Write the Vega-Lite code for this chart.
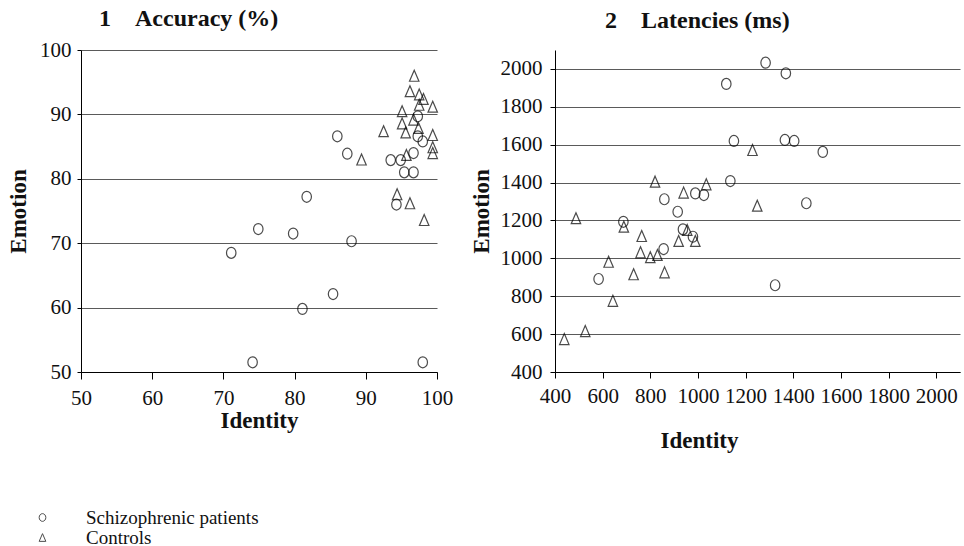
{
  "$schema": "https://vega.github.io/schema/vega-lite/v6.json",
  "autosize": {"type": "pad"},
  "padding": {"left": 7, "top": 7, "right": 2, "bottom": 0},
  "background": "white",
  "bounds": "flush",
  "spacing": 118,
  "datasets": {
    "acc": [
      {"group": "Schizophrenic patients", "identity": 86.0, "emotion": 86.6},
      {"group": "Schizophrenic patients", "identity": 87.4, "emotion": 83.9},
      {"group": "Schizophrenic patients", "identity": 93.5, "emotion": 82.9},
      {"group": "Schizophrenic patients", "identity": 94.9, "emotion": 82.9},
      {"group": "Schizophrenic patients", "identity": 95.4, "emotion": 81.0},
      {"group": "Schizophrenic patients", "identity": 96.7, "emotion": 81.0},
      {"group": "Schizophrenic patients", "identity": 96.7, "emotion": 84.0},
      {"group": "Schizophrenic patients", "identity": 97.3, "emotion": 89.7},
      {"group": "Schizophrenic patients", "identity": 97.3, "emotion": 86.6},
      {"group": "Schizophrenic patients", "identity": 98.0, "emotion": 85.8},
      {"group": "Schizophrenic patients", "identity": 81.7, "emotion": 77.2},
      {"group": "Schizophrenic patients", "identity": 74.9, "emotion": 72.2},
      {"group": "Schizophrenic patients", "identity": 79.8, "emotion": 71.5},
      {"group": "Schizophrenic patients", "identity": 71.1, "emotion": 68.5},
      {"group": "Schizophrenic patients", "identity": 88.0, "emotion": 70.3},
      {"group": "Schizophrenic patients", "identity": 85.4, "emotion": 62.1},
      {"group": "Schizophrenic patients", "identity": 81.1, "emotion": 59.8},
      {"group": "Schizophrenic patients", "identity": 74.1, "emotion": 51.5},
      {"group": "Schizophrenic patients", "identity": 98.0, "emotion": 51.5},
      {"group": "Schizophrenic patients", "identity": 94.3, "emotion": 76.0},
      {"group": "Controls", "identity": 96.8, "emotion": 96.0},
      {"group": "Controls", "identity": 96.2, "emotion": 93.6},
      {"group": "Controls", "identity": 97.5, "emotion": 93.1},
      {"group": "Controls", "identity": 98.1, "emotion": 92.4},
      {"group": "Controls", "identity": 97.5, "emotion": 91.5},
      {"group": "Controls", "identity": 99.4, "emotion": 91.2},
      {"group": "Controls", "identity": 95.1, "emotion": 90.5},
      {"group": "Controls", "identity": 96.7, "emotion": 89.2},
      {"group": "Controls", "identity": 95.1, "emotion": 88.6},
      {"group": "Controls", "identity": 97.4, "emotion": 87.9},
      {"group": "Controls", "identity": 92.5, "emotion": 87.4},
      {"group": "Controls", "identity": 95.6, "emotion": 87.2},
      {"group": "Controls", "identity": 99.4, "emotion": 86.8},
      {"group": "Controls", "identity": 99.4, "emotion": 84.9},
      {"group": "Controls", "identity": 99.4, "emotion": 84.0},
      {"group": "Controls", "identity": 95.7, "emotion": 83.7},
      {"group": "Controls", "identity": 89.4, "emotion": 83.0},
      {"group": "Controls", "identity": 94.4, "emotion": 77.6},
      {"group": "Controls", "identity": 96.2, "emotion": 76.2},
      {"group": "Controls", "identity": 98.2, "emotion": 73.6}
    ],
    "lat": [
      {"group": "Schizophrenic patients", "identity": 1284, "emotion": 2033},
      {"group": "Schizophrenic patients", "identity": 1369, "emotion": 1977},
      {"group": "Schizophrenic patients", "identity": 1119, "emotion": 1921},
      {"group": "Schizophrenic patients", "identity": 1151, "emotion": 1620},
      {"group": "Schizophrenic patients", "identity": 1365, "emotion": 1625},
      {"group": "Schizophrenic patients", "identity": 1404, "emotion": 1620},
      {"group": "Schizophrenic patients", "identity": 1524, "emotion": 1562},
      {"group": "Schizophrenic patients", "identity": 1136, "emotion": 1408},
      {"group": "Schizophrenic patients", "identity": 859, "emotion": 1312},
      {"group": "Schizophrenic patients", "identity": 989, "emotion": 1343},
      {"group": "Schizophrenic patients", "identity": 1025, "emotion": 1334},
      {"group": "Schizophrenic patients", "identity": 915, "emotion": 1246},
      {"group": "Schizophrenic patients", "identity": 687, "emotion": 1193},
      {"group": "Schizophrenic patients", "identity": 937, "emotion": 1153},
      {"group": "Schizophrenic patients", "identity": 979, "emotion": 1114},
      {"group": "Schizophrenic patients", "identity": 856, "emotion": 1049},
      {"group": "Schizophrenic patients", "identity": 583, "emotion": 891},
      {"group": "Schizophrenic patients", "identity": 1324, "emotion": 858},
      {"group": "Schizophrenic patients", "identity": 1455, "emotion": 1291},
      {"group": "Controls", "identity": 820, "emotion": 1405},
      {"group": "Controls", "identity": 1229, "emotion": 1572},
      {"group": "Controls", "identity": 1035, "emotion": 1391},
      {"group": "Controls", "identity": 940, "emotion": 1347},
      {"group": "Controls", "identity": 1249, "emotion": 1278},
      {"group": "Controls", "identity": 488, "emotion": 1212},
      {"group": "Controls", "identity": 689, "emotion": 1167},
      {"group": "Controls", "identity": 764, "emotion": 1118},
      {"group": "Controls", "identity": 759, "emotion": 1032},
      {"group": "Controls", "identity": 800, "emotion": 1006},
      {"group": "Controls", "identity": 830, "emotion": 1018},
      {"group": "Controls", "identity": 919, "emotion": 1092},
      {"group": "Controls", "identity": 989, "emotion": 1092},
      {"group": "Controls", "identity": 955, "emotion": 1150},
      {"group": "Controls", "identity": 625, "emotion": 982},
      {"group": "Controls", "identity": 730, "emotion": 916},
      {"group": "Controls", "identity": 860, "emotion": 926},
      {"group": "Controls", "identity": 643, "emotion": 776},
      {"group": "Controls", "identity": 527, "emotion": 616},
      {"group": "Controls", "identity": 439, "emotion": 574}
    ]
  },
  "hconcat": [
    {
      "width": 356,
      "height": 322,
      "data": {"name": "acc"},
      "title": {"text": "1\u00a0\u00a0\u00a0\u00a0Accuracy (%)", "dx": 18, "offset": 8},
      "mark": {"type": "point", "filled": false, "color": "black", "strokeWidth": 1.2, "size": 121, "clip": false},
      "encoding": {
        "x": {
          "field": "identity", "type": "quantitative",
          "scale": {"domain": [50, 100], "nice": false, "zero": false},
          "axis": {"title": "Identity", "values": [50, 60, 70, 80, 90, 100], "grid": false, "tickSize": 7, "labelPadding": 8, "titleX": 178, "titleY": 55, "titleBaseline": "alphabetic"}
        },
        "y": {
          "field": "emotion", "type": "quantitative",
          "scale": {"domain": [50, 100], "nice": false, "zero": false},
          "axis": {"title": "Emotion", "values": [50, 60, 70, 80, 90, 100], "grid": true, "tickSize": 4, "labelPadding": 6, "titleX": -56, "titleY": 161, "titleBaseline": "alphabetic"}
        },
        "shape": {
          "field": "group", "type": "nominal",
          "scale": {
            "domain": ["Schizophrenic patients", "Controls"],
            "range": ["M0,-1A0.86,1,0,1,1,0,1A0.86,1,0,1,1,0,-1Z", "M0,-1L0.86,1L-0.86,1Z"]
          },
          "legend": {"title": null}
        }
      }
    },
    {
      "width": 405,
      "height": 322,
      "data": {"name": "lat"},
      "title": {"text": "2\u00a0\u00a0\u00a0\u00a0Latencies (ms)", "dx": 50, "offset": 17},
      "mark": {"type": "point", "filled": false, "color": "black", "strokeWidth": 1.2, "size": 121, "clip": false},
      "encoding": {
        "x": {
          "field": "identity", "type": "quantitative",
          "scale": {"domain": [400, 2100], "nice": false, "zero": false},
          "axis": {"title": "Identity", "format": "d", "values": [400, 600, 800, 1000, 1200, 1400, 1600, 1800, 2000], "grid": false, "tickSize": 6, "labelPadding": 7, "titleX": 144, "titleY": 75, "titleBaseline": "alphabetic"}
        },
        "y": {
          "field": "emotion", "type": "quantitative",
          "scale": {"domain": [400, 2100], "nice": false, "zero": false},
          "axis": {"title": "Emotion", "format": "d", "values": [400, 600, 800, 1000, 1200, 1400, 1600, 1800, 2000], "grid": true, "tickSize": 5, "labelPadding": 8, "titleX": -67, "titleY": 161, "titleBaseline": "alphabetic"}
        },
        "shape": {
          "field": "group", "type": "nominal",
          "scale": {
            "domain": ["Schizophrenic patients", "Controls"],
            "range": ["M0,-1A0.86,1,0,1,1,0,1A0.86,1,0,1,1,0,-1Z", "M0,-1L0.86,1L-0.86,1Z"]
          },
          "legend": {"title": null}
        }
      }
    }
  ],
  "resolve": {"scale": {"shape": "shared"}, "legend": {"shape": "shared"}},
  "config": {
    "view": {"stroke": null},
    "font": "Liberation Serif",
    "title": {"font": "Liberation Serif", "fontSize": 24, "fontWeight": "bold", "color": "#111", "anchor": "start", "frame": "group", "baseline": "alphabetic"},
    "axis": {
      "labelFont": "Liberation Serif", "labelFontSize": 21, "labelColor": "#111",
      "titleFont": "Liberation Serif", "titleFontSize": 23, "titleFontWeight": "bold", "titleColor": "#111",
      "domainColor": "#000", "domainWidth": 1, "tickColor": "#000", "tickWidth": 1,
      "gridColor": "#5a5a5a", "gridWidth": 1, "gridOpacity": 1, "labelFlush": false, "labelOverlap": false
    },
    "legend": {
      "orient": "none", "legendX": -48, "legendY": 458, "padding": 0,
      "labelFont": "Liberation Serif", "labelFontSize": 19, "labelColor": "#111", "labelLimit": 400,
      "symbolSize": 60, "symbolStrokeColor": "black", "symbolFillColor": "transparent", "symbolStrokeWidth": 1,
      "labelOffset": 34, "rowPadding": 0
    }
  }
}
